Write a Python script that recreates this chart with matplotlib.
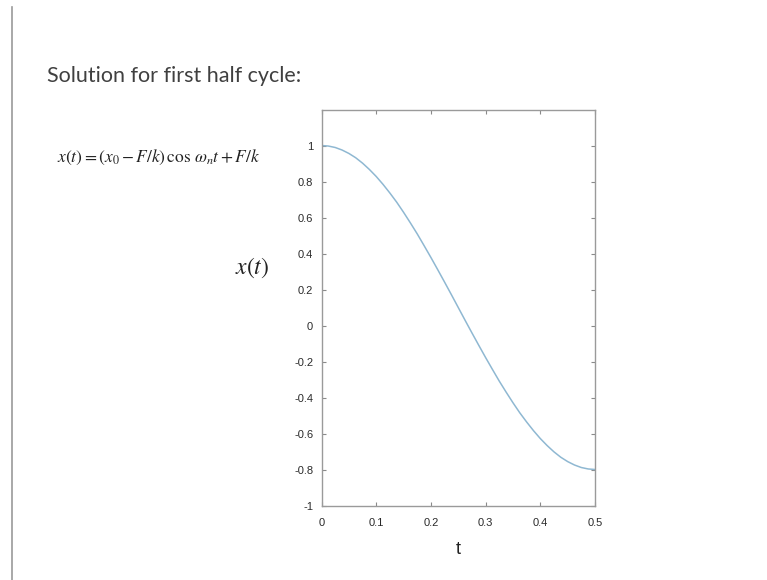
import matplotlib.pyplot as plt
from matplotlib.lines import Line2D

# values
t = [0.0, 0.0125, 0.025, 0.0375, 0.05, 0.0625, 0.075, 0.0875, 0.1, 0.1125,
     0.125, 0.1375, 0.15, 0.1625, 0.175, 0.1875, 0.2, 0.2125, 0.225, 0.2375,
     0.25, 0.2625, 0.275, 0.2875, 0.3, 0.3125, 0.325, 0.3375, 0.35, 0.3625,
     0.375, 0.3875, 0.4, 0.4125, 0.425, 0.4375, 0.45, 0.4625, 0.475, 0.4875, 0.5]
x = [1.0, 0.997, 0.989, 0.975, 0.956, 0.932, 0.902, 0.867, 0.828, 0.784,
     0.736, 0.685, 0.629, 0.570, 0.509, 0.444, 0.378, 0.310, 0.241, 0.171,
     0.1, 0.029, -0.041, -0.110, -0.178, -0.244, -0.309, -0.370, -0.429, -0.485,
     -0.536, -0.584, -0.628, -0.667, -0.702, -0.732, -0.756, -0.775, -0.789, -0.797, -0.8]

xticks = [0, 0.1, 0.2, 0.3, 0.4, 0.5]
yticks = [-1, -0.8, -0.6, -0.4, -0.2, 0, 0.2, 0.4, 0.6, 0.8, 1]

W, H = 767, 580
fig = plt.figure(figsize=(W / 100, H / 100), dpi=100)
fig.patch.set_facecolor('white')

# slide left border
fig.add_artist(Line2D([12 / W, 12 / W], [0, 1 - 7 / H], color='#9a9a9a', lw=1.2))

fig.text(47 / W, 1 - 76 / H, 'Solution for first half cycle:', fontsize=15.5,
         family='Lato', color='#404040', va='center', ha='left')

plt.rcParams['mathtext.fontset'] = 'stix'
fig.text(57 / W, 1 - 157 / H, r'$x(t) = (x_0 - F/k)\,\cos\,\omega_n t + F/k$',
         fontsize=12.5, color='#222222', va='center', ha='left')
fig.text(252 / W, 1 - 268 / H, r'$x(t)$', fontsize=17, color='#222222',
         va='center', ha='center')

left, right, top, bottom = 321.5, 595, 109.5, 505.5
ax = fig.add_axes([left / W, 1 - bottom / H, (right - left) / W, (bottom - top) / H])
ax.plot(t, x, color='#8fb8d2', lw=1.1)
ax.set_xlim(0, 0.5)
ax.set_ylim(-1, 1.2)
ax.set_xticks(xticks)
ax.set_xticklabels(['0', '0.1', '0.2', '0.3', '0.4', '0.5'])
ax.set_yticks(yticks)
ax.set_yticklabels(['-1', '-0.8', '-0.6', '-0.4', '-0.2', '0', '0.2', '0.4', '0.6', '0.8', '1'])
ax.tick_params(direction='in', top=True, right=True, length=3, width=0.8,
               color='#8a8a8a', labelsize=8, labelcolor='#2a2a2a')
ax.tick_params(axis='x', pad=9)
ax.tick_params(axis='y', pad=6)
for lab in ax.get_xticklabels() + ax.get_yticklabels():
    lab.set_family('Liberation Sans')
for s in ax.spines.values():
    s.set_color('#9a9a9a')
    s.set_linewidth(1.0)
ax.set_xlabel('t', fontsize=13, family='Liberation Sans', color='#222222', labelpad=9)

fig.savefig('out.png', dpi=100)
